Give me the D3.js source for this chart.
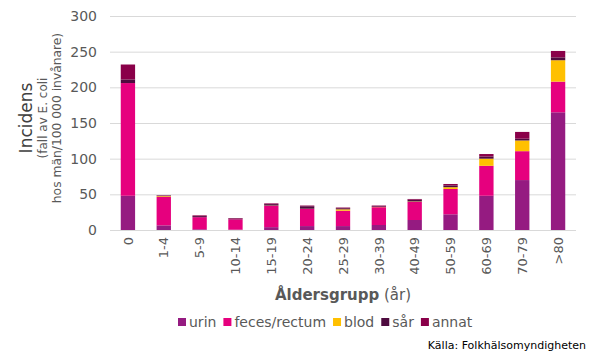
<!DOCTYPE html>
<html>
<head>
<meta charset="utf-8">
<script src="https://cdn.jsdelivr.net/npm/d3@7"></script>
<style>
  body { margin: 0; background: #fff; }
  text { font-family: "DejaVu Sans", Verdana, sans-serif; }
</style>
</head>
<body>
<script>
// data (incidence per 100 000)
var ageGroups = ["0", "1-4", "5-9", "10-14", "15-19", "20-24", "25-29", "30-39", "40-49", "50-59", "60-69", "70-79", ">80"];
var urin   = [48, 6.5, 1, 0.5, 4, 5.5, 5.5, 7, 14, 22, 48, 70, 165];
var feces  = [158, 40, 17, 14.5, 30, 24, 21.5, 25, 25.5, 35.5, 42, 40.5, 43];
var blod   = [0, 1, 0, 0, 0.3, 0.3, 2, 0.3, 0.5, 2.5, 10, 15, 30];
var sar    = [5, 0.7, 1.5, 1, 2, 3.5, 1.5, 1, 2.5, 2.5, 3, 2.5, 4];
var annat  = [21, 0.5, 1, 0.8, 1, 1, 1, 1, 1, 2, 3.5, 9.5, 9];
var seriesNames = ["urin", "feces/rectum", "blod", "sår", "annat"];
var seriesColors = ["#951B81", "#E6007E", "#FFC000", "#4E0B3F", "#8A0049"];
var yTicks = [0, 50, 100, 150, 200, 250, 300];

var width = 590, height = 354;
var margin = {top: 16, right: 14, bottom: 124, left: 110};

var svg = d3.select("body").append("svg")
    .attr("width", width)
    .attr("height", height);

var x = d3.scaleBand()
    .domain(ageGroups)
    .range([margin.left, width - margin.right])
    .paddingInner(0.6)
    .paddingOuter(0.3);
var y = d3.scaleLinear().domain([0, 300]).range([height - margin.bottom, margin.top]);

// build table for the stack
var rows = ageGroups.map(function(g, i) {
    return {group: g, urin: urin[i], feces: feces[i], blod: blod[i], sar: sar[i], annat: annat[i]};
});
var keys = ["urin", "feces", "blod", "sar", "annat"];
var stacked = d3.stack().keys(keys)(rows);

// gridlines
svg.append("g")
    .selectAll("line")
    .data(yTicks)
    .join("line")
    .attr("x1", margin.left)
    .attr("x2", width - margin.right)
    .attr("y1", function(d) { return y(d) + 0.5; })
    .attr("y2", function(d) { return y(d) + 0.5; })
    .attr("stroke", "#d9d9d9")
    .attr("stroke-width", 1);

// y tick labels
svg.append("g")
    .selectAll("text")
    .data(yTicks)
    .join("text")
    .attr("x", 97)
    .attr("y", function(d) { return y(d); })
    .attr("dy", "0.36em")
    .attr("text-anchor", "end")
    .attr("font-size", 14)
    .attr("fill", "#595959")
    .text(function(d) { return d; });

// bars
svg.append("g")
    .selectAll("g")
    .data(stacked)
    .join("g")
    .attr("fill", function(d, i) { return seriesColors[i]; })
    .selectAll("rect")
    .data(function(d) { return d; })
    .join("rect")
    .attr("x", function(d) { return x(d.data.group); })
    .attr("width", x.bandwidth())
    .attr("y", function(d) { return y(d[1]); })
    .attr("height", function(d) { return y(d[0]) - y(d[1]); });

// x labels (rotated)
svg.append("g")
    .selectAll("text")
    .data(ageGroups)
    .join("text")
    .attr("transform", function(d) {
        return "translate(" + (x(d) + x.bandwidth() / 2) + "," + (height - margin.bottom + 7) + ") rotate(-90)";
    })
    .attr("dy", "0.36em")
    .attr("text-anchor", "end")
    .attr("font-size", 13)
    .attr("fill", "#595959")
    .text(function(d) { return d; });

// x axis title
var xt = svg.append("text")
    .attr("x", 343)
    .attr("y", 300)
    .attr("text-anchor", "middle")
    .attr("font-size", 15)
    .attr("fill", "#595959");
xt.append("tspan").attr("font-weight", "bold").text("Åldersgrupp");
xt.append("tspan").text(" (år)");

// y axis title
var yt = svg.append("g").attr("transform", "translate(0,118) rotate(-90)");
yt.append("text")
    .attr("x", 0).attr("y", 32)
    .attr("text-anchor", "middle")
    .attr("font-size", 17)
    .attr("fill", "#404040")
    .text("Incidens");
yt.append("text")
    .attr("x", 0).attr("y", 47)
    .attr("text-anchor", "middle")
    .attr("font-size", 12)
    .attr("fill", "#595959")
    .text("(fall av E. coli");
yt.append("text")
    .attr("x", 0).attr("y", 61)
    .attr("text-anchor", "middle")
    .attr("font-size", 12.3)
    .attr("fill", "#595959")
    .text("hos män/100 000 invånare)");

// legend
var legend = svg.append("g");
var lx = 178;
seriesNames.forEach(function(name, i) {
    legend.append("rect")
        .attr("x", lx)
        .attr("y", 318)
        .attr("width", 8)
        .attr("height", 8)
        .attr("fill", seriesColors[i]);
    var t = legend.append("text")
        .attr("x", lx + 11)
        .attr("y", 327)
        .attr("font-size", 14)
        .attr("fill", "#595959")
        .text(name);
    lx += 11 + t.node().getComputedTextLength() + 7;
});

// source
svg.append("text")
    .attr("x", 586)
    .attr("y", 349)
    .attr("text-anchor", "end")
    .attr("font-size", 11)
    .attr("fill", "#000")
    .text("Källa:  Folkhälsomyndigheten");
</script>
</body>
</html>
